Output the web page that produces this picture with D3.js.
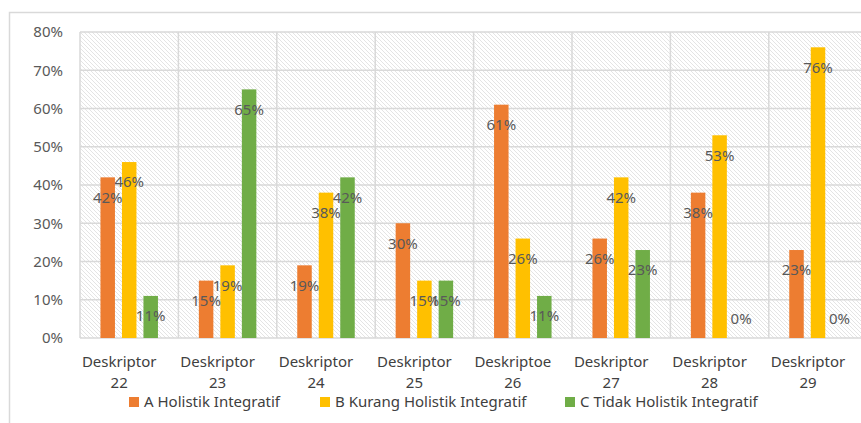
<!DOCTYPE html>
<html>
<head>
<meta charset="utf-8">
<script src="https://cdn.jsdelivr.net/npm/d3@7"></script>
<style>
body{margin:0;background:#fff;}
text{font-family:"Noto Sans","Open Sans",sans-serif;}
</style>
</head>
<body>
<div id="chart"></div>
<script>
// data
const categories = [['Deskriptor','22'],['Deskriptor','23'],['Deskriptor','24'],['Deskriptor','25'],
	['Deskriptoe','26'],['Deskriptor','27'],['Deskriptor','28'],['Deskriptor','29']]
const seriesNames = ['A Holistik Integratif','B Kurang Holistik Integratif','C Tidak Holistik Integratif']
const seriesA = [42,15,19,30,61,26,38,23]
const seriesB = [46,19,38,15,26,42,53,76]
const seriesC = [11,65,42,15,11,23,0,0]
const yTicks = [0,10,20,30,40,50,60,70,80]
const colors = ['#ED7D31','#FFC000','#70AD47']

const width = 861,height = 423
const plotLeft = 80,plotTop = 32,plotBottom = 338,step = 98.4
const allSeries = [seriesA,seriesB,seriesC]

const svg = d3.select('#chart').append('svg')
	.attr('width',width).attr('height',height)

//hatch for plot area
const pat = svg.append('defs').append('pattern')
	.attr('id','hatch').attr('patternUnits','userSpaceOnUse')
	.attr('width',4).attr('height',4)
pat.append('rect').attr('width',4).attr('height',4).attr('fill','#fff')
pat.append('path').attr('d','M-1,-1L5,5M-1,3L1,5M3,-1L5,1')
	.attr('stroke','#e4e4e4').attr('stroke-width',1)

//outer chart border
svg.append('rect').attr('x',9.5).attr('y',12.5).attr('width',900).attr('height',500)
	.attr('fill','#fff').attr('stroke','#d9d9d9').attr('stroke-width',1.5)

const x0 = d3.scaleBand().domain(d3.range(categories.length))
	.range([plotLeft,plotLeft + step*categories.length])
const x1 = d3.scaleBand().domain(d3.range(3)).range([-32.25,32.25])
	.paddingInner(0.3256).paddingOuter(0.1628)
const y = d3.scaleLinear().domain([0,80]).range([plotBottom,plotTop])

svg.append('rect').attr('x',plotLeft).attr('y',plotTop)
	.attr('width',step*categories.length).attr('height',plotBottom-plotTop)
	.attr('fill','url(#hatch)')

//gridlines
svg.append('g').selectAll('line').data(yTicks).enter().append('line')
	.attr('x1',plotLeft).attr('x2',plotLeft + step*categories.length)
	.attr('y1',d => y(d)).attr('y2',d => y(d))
	.attr('stroke','#d9d9d9').attr('stroke-width',1.5)
svg.append('g').selectAll('line').data(d3.range(categories.length+1)).enter().append('line')
	.attr('x1',d => plotLeft + d*step).attr('x2',d => plotLeft + d*step)
	.attr('y1',plotTop).attr('y2',plotBottom)
	.attr('stroke','#d9d9d9').attr('stroke-width',1.5)

//y axis labels
svg.append('g').selectAll('text').data(yTicks).enter().append('text')
	.attr('x',63).attr('y',d => y(d)).attr('dy','0.36em')
	.attr('text-anchor','end').attr('font-size',15).attr('fill','#595959')
	.text(d => d + '%')

//bars
const groups = svg.append('g').selectAll('g').data(categories).enter().append('g')
	.attr('transform',(d,i) => `translate(${x0(i) + x0.bandwidth()/2},0)`)
groups.selectAll('rect').data((d,i) => allSeries.map((s,k) => ({k:k,v:s[i]}))).enter().append('rect')
	.attr('x',d => x1(d.k)).attr('width',x1.bandwidth())
	.attr('y',d => y(d.v)).attr('height',d => plotBottom - y(d.v))
	.attr('fill',d => colors[d.k])
groups.selectAll('text.val').data((d,i) => allSeries.map((s,k) => ({k:k,v:s[i]}))).enter().append('text')
	.attr('class','val')
	.attr('x',d => x1(d.k) + x1.bandwidth()/2)
	.attr('y',d => d.v > 0 ? y(d.v) + 20 : y(d.v) - 19)
	.attr('dy','0.36em').attr('text-anchor','middle')
	.attr('font-size',15).attr('fill','#595959')
	.text(d => d.v + '%')

//category labels
const cl = svg.append('g').selectAll('text').data(categories).enter().append('text')
	.attr('text-anchor','middle').attr('font-size',15).attr('fill','#404040')
	.attr('transform',(d,i) => `translate(${x0(i) + x0.bandwidth()/2 - 10},0)`)
cl.append('tspan').attr('x',0).attr('y',367).text(d => d[0])
cl.append('tspan').attr('x',0).attr('y',388).text(d => d[1])

//legend
const legendX = [129,320,565]
const lg = svg.append('g').selectAll('g').data(seriesNames).enter().append('g')
	.attr('transform',(d,i) => `translate(${legendX[i]},402)`)
lg.append('rect').attr('x',0).attr('y',-5).attr('width',10).attr('height',10)
	.attr('fill',(d,i) => colors[i])
lg.append('text').attr('x',15).attr('y',0).attr('dy','0.36em')
	.attr('font-size',15).attr('fill','#404040').text(d => d)
</script>
</body>
</html>
